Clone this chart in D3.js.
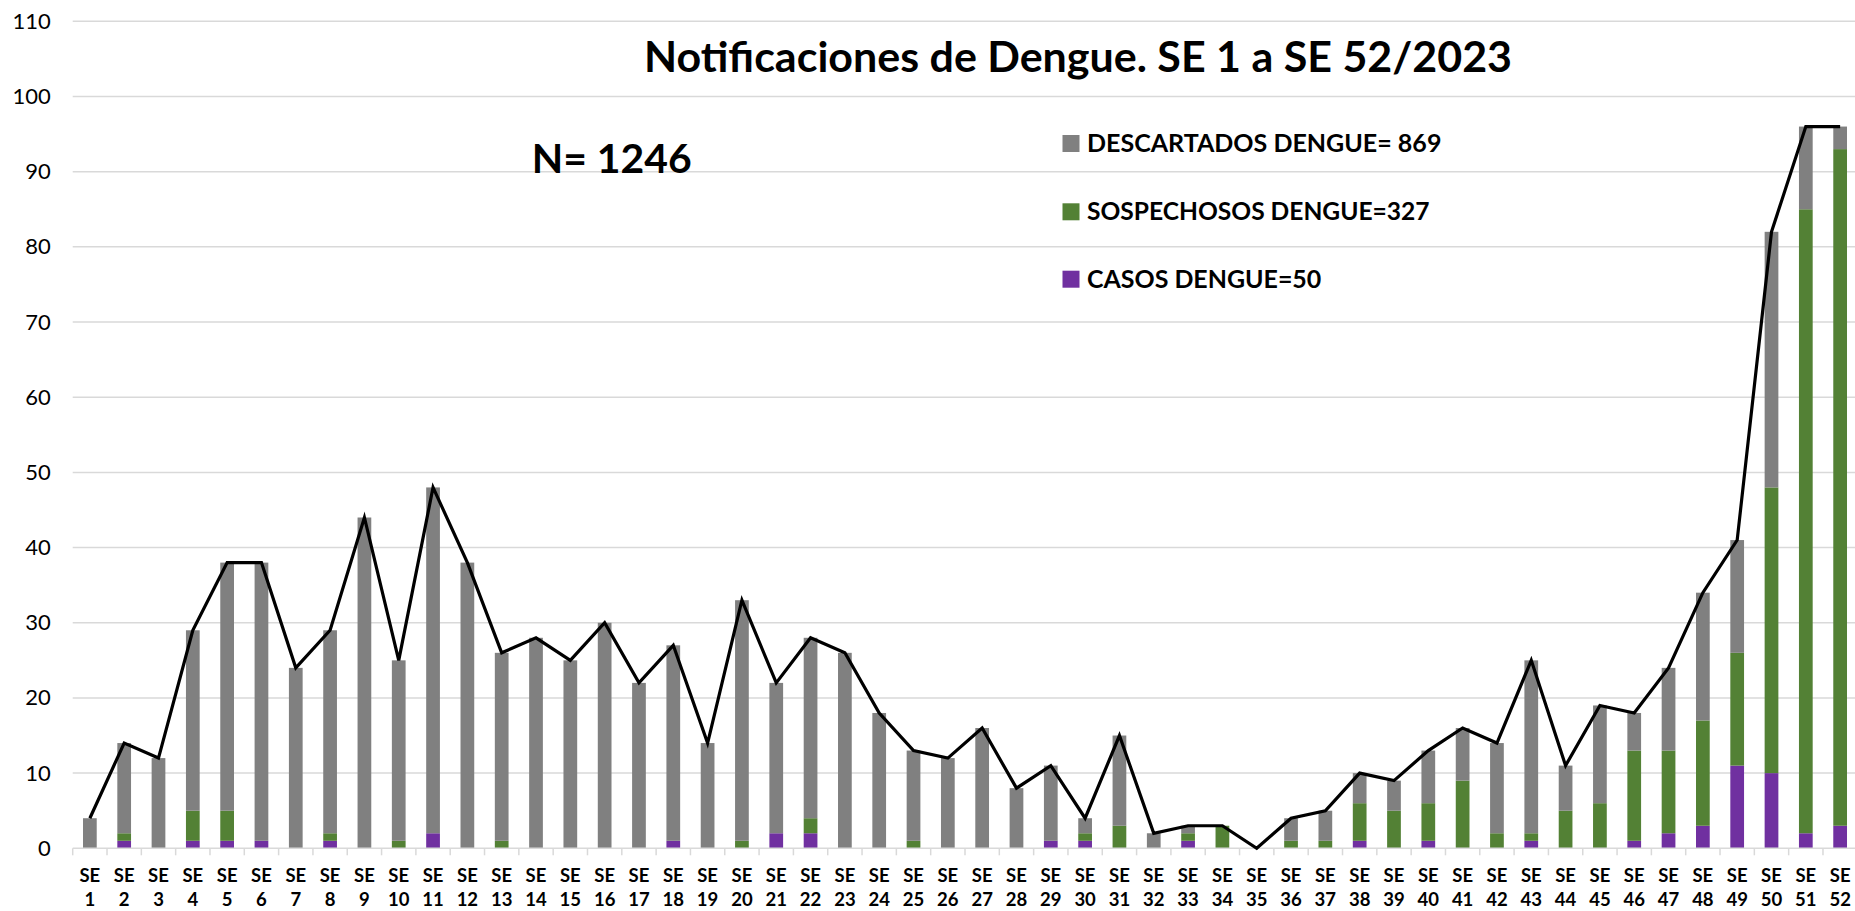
<!DOCTYPE html>
<html><head><meta charset="utf-8">
<script src="https://cdn.jsdelivr.net/npm/d3@7"></script>
<style>body{margin:0;background:#fff;} svg{display:block}</style>
</head><body><svg id="chart" width="1855" height="911"></svg>
<script>
const semanas = ["SE 1","SE 2","SE 3","SE 4","SE 5","SE 6","SE 7","SE 8","SE 9","SE 10","SE 11","SE 12","SE 13","SE 14","SE 15","SE 16","SE 17","SE 18","SE 19","SE 20","SE 21","SE 22","SE 23","SE 24","SE 25","SE 26","SE 27","SE 28","SE 29","SE 30","SE 31","SE 32","SE 33","SE 34","SE 35","SE 36","SE 37","SE 38","SE 39","SE 40","SE 41","SE 42","SE 43","SE 44","SE 45","SE 46","SE 47","SE 48","SE 49","SE 50","SE 51","SE 52"];
const casos =       [0,1,0,1,1,1,0,1,0,0,2,0,0,0,0,0,0,1,0,0,2,2,0,0,0,0,0,0,1,1,0,0,1,0,0,0,0,1,0,1,0,0,1,0,0,1,2,3,11,10,2,3];
const sospechosos = [0,1,0,4,4,0,0,1,0,1,0,0,1,0,0,0,0,0,0,1,0,2,0,0,1,0,0,0,0,1,3,0,1,3,0,1,1,5,5,5,9,2,1,5,6,12,11,14,15,38,83,90];
const descartados = [4,12,12,24,33,37,24,27,44,24,46,38,25,28,25,30,22,26,14,32,20,24,26,18,12,12,16,8,10,2,12,2,1,0,0,3,4,4,4,7,7,12,23,6,13,5,11,17,15,34,11,3];
const totales =     [4,14,12,29,38,38,24,29,44,25,48,38,26,28,25,30,22,27,14,33,22,28,26,18,13,12,16,8,11,4,15,2,3,3,0,4,5,10,9,13,16,14,25,11,19,18,24,34,41,82,96,96];
const yTicks = [0,10,20,30,40,50,60,70,80,90,100,110];
const titulo = "Notificaciones de Dengue. SE 1 a SE 52/2023";
const textoN = "N= 1246";
const leyendaTextos = ["DESCARTADOS DENGUE= 869","SOSPECHOSOS DENGUE=327","CASOS DENGUE=50"];
const leyendaClaves = ["descartados","sospechosos","casos"];
const colores = {casos:"#7030A0", sospechosos:"#538135", descartados:"#808080"};

const svg = d3.select("#chart");
const FONT = "Lato, 'Open Sans', sans-serif";
const left = 72.7, right = 1857.3, y0 = 848.3, yTop = 21.3;

const x = d3.scaleBand().domain(semanas).range([left, right]).paddingInner(0.6).paddingOuter(0.3);
const y = d3.scaleLinear().domain([0, 110]).range([y0, yTop]);

// gridlines
svg.append("g").selectAll("line").data(yTicks.filter(d => d > 0)).join("line")
  .attr("x1", left).attr("x2", 1855).attr("y1", d => y(d)).attr("y2", d => y(d))
  .attr("stroke", "#d9d9d9").attr("stroke-width", 1.5);

// y axis labels
const yAxis = svg.append("g").attr("transform", `translate(${left},0)`)
  .call(d3.axisLeft(y).tickValues(yTicks).tickSize(0).tickPadding(22));
yAxis.select(".domain").remove();
yAxis.selectAll("text").attr("font-family", FONT).attr("font-size", 22).attr("fill", "#000");

// stacked bars
const rows = semanas.map((s, i) => ({semana: s, casos: casos[i], sospechosos: sospechosos[i], descartados: descartados[i], total: totales[i]}));
const stack = d3.stack().keys(["casos", "sospechosos", "descartados"])(rows);
svg.append("g").selectAll("g").data(stack).join("g")
  .attr("fill", d => colores[d.key])
  .selectAll("rect").data(d => d.filter(p => p[1] > p[0])).join("rect")
  .attr("x", d => x(d.data.semana)).attr("width", x.bandwidth())
  .attr("y", d => y(d[1])).attr("height", d => y(d[0]) - y(d[1]));

// x axis line + boundary ticks
const xg = svg.append("g");
xg.append("line").attr("x1", left).attr("x2", 1855).attr("y1", y0).attr("y2", y0)
  .attr("stroke", "#d9d9d9").attr("stroke-width", 1.5);
xg.selectAll("line.tk").data(d3.range(semanas.length + 1)).join("line").attr("class", "tk")
  .attr("x1", i => left + i * x.step()).attr("x2", i => left + i * x.step())
  .attr("y1", y0).attr("y2", y0 + 7).attr("stroke", "#d9d9d9").attr("stroke-width", 1.5);

const xAxis = svg.append("g").attr("transform", `translate(0,${y0})`)
  .call(d3.axisBottom(x).tickSize(0));
xAxis.select(".domain").remove();
xAxis.selectAll("text").each(function(d) {
  const parts = d.split(" ");
  const t = d3.select(this).text(null).attr("dy", null).attr("y", null)
    .attr("font-family", FONT).attr("font-size", 18.5).attr("font-weight", 700).attr("fill", "#000");
  t.append("tspan").attr("x", 0).attr("y", 882.5 - y0).text(parts[0]);
  t.append("tspan").attr("x", 0).attr("y", 906.5 - y0).text(parts[1]);
});

// total line
svg.append("path").datum(rows)
  .attr("fill", "none").attr("stroke", "#000").attr("stroke-width", 3.2).attr("stroke-linejoin", "miter")
  .attr("d", d3.line().x(d => x(d.semana) + x.bandwidth() / 2).y(d => y(d.total)));

// title
svg.append("text").attr("x", 644).attr("y", 71.7).attr("font-family", FONT).attr("font-weight", 700)
  .attr("font-size", 42).attr("textLength", 868).attr("lengthAdjust", "spacingAndGlyphs").attr("fill", "#000").text(titulo);

// N
svg.append("text").attr("x", 531.7).attr("y", 173.3).attr("font-family", FONT).attr("font-weight", 700)
  .attr("font-size", 39.5).attr("textLength", 160).attr("lengthAdjust", "spacingAndGlyphs").attr("fill", "#000").text(textoN);

// legend
const legY = [135, 203.3, 270.7];
const legW = [354.4, 342.6, 234.3];
const leg = svg.append("g");
leyendaClaves.forEach((k, i) => {
  leg.append("rect").attr("x", 1062.5).attr("y", legY[i]).attr("width", 17).attr("height", 17).attr("fill", colores[k]);
  leg.append("text").attr("x", 1087).attr("y", legY[i] + 16.8).attr("font-family", FONT).attr("font-weight", 700)
    .attr("font-size", 25.5).attr("textLength", legW[i]).attr("lengthAdjust", "spacingAndGlyphs").attr("fill", "#000")
    .text(leyendaTextos[i]);
});
</script>
</body></html>
